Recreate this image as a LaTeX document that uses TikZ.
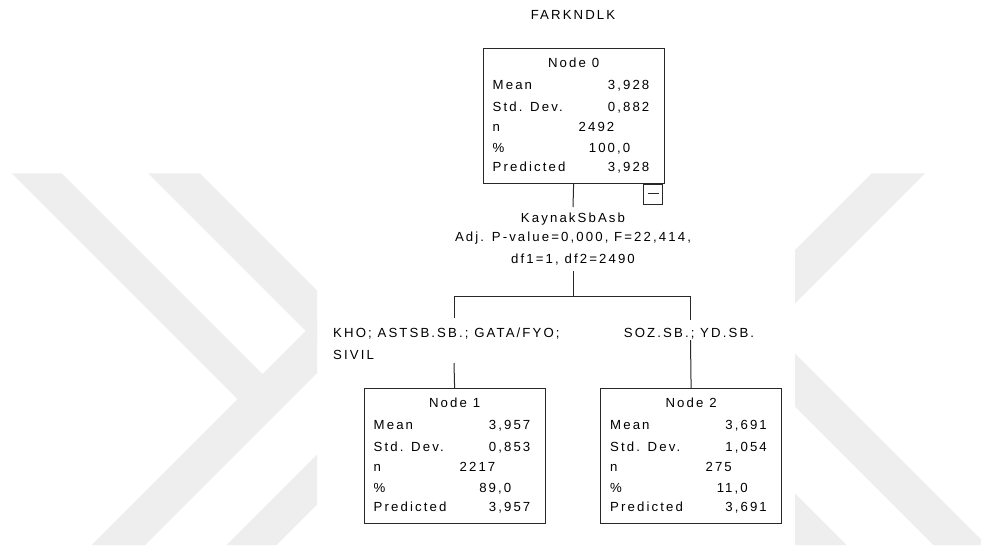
\documentclass[tikz,border=0pt]{standalone}
\usepackage{fontspec}
\setmainfont{Liberation Sans}[LetterSpace=16]
\usetikzlibrary{calc}
\definecolor{wmgray}{RGB}{238,238,238}
\definecolor{boxcol}{RGB}{40,40,40}
\newcommand\dgfont{\fontsize{13.2}{15}\selectfont}
\newcommand\statbox[9]{%
  \node[box, anchor=north west] (#1) at (#2,#3) {};
  \node[txt, anchor=base] (#1-title) at ($(#1.north)+(0,19)$) {#4};
  \node[txt, anchor=base west] (#1-l1) at ($(#1.north west)+(10,41.5)$) {Mean};
  \node[txt, anchor=base east] (#1-v1) at ($(#1.north west)+(167,41.5)$) {#5};
  \node[txt, anchor=base west] (#1-l2) at ($(#1.north west)+(10,63)$) {Std. Dev.};
  \node[txt, anchor=base east] (#1-v2) at ($(#1.north west)+(167,63)$) {#6};
  \node[txt, anchor=base west] (#1-l3) at ($(#1.north west)+(10,83.5)$) {n};
  \node[txt, anchor=base east] (#1-v3) at ($(#1.north west)+(132,83.5)$) {#7};
  \node[txt, anchor=base west] (#1-l4) at ($(#1.north west)+(10,104)$) {\%};
  \node[txt, anchor=base east] (#1-v4) at ($(#1.north west)+(148,104)$) {#8};
  \node[txt, anchor=base west] (#1-l5) at ($(#1.north west)+(10,123.5)$) {Predicted};
  \node[txt, anchor=base east] (#1-v5) at ($(#1.north west)+(167,123.5)$) {#9};
}
\begin{document}
\begin{tikzpicture}[x=1pt,y=-1pt,
  wm/.style={fill=wmgray, draw=none},
  box/.style={draw=boxcol, line width=1.2pt, minimum width=181pt, minimum height=135pt, inner sep=0pt},
  txt/.style={inner sep=0pt, font=\dgfont, text=black},
  conn/.style={draw=boxcol, line width=1pt}]
\useasboundingbox (0,0) rectangle (981,550);
\fill[white] (0,0) rectangle (981,550);
% watermark
\begin{scope}
\clip (0,0) rectangle (981,550);
\fill[wm] (11.6,173.3) -- (61.6,173.3) -- (262.5,374.2) -- (317,319.7) -- (317,373) -- (145,545) -- (91.7,545) -- (237.5,399.2) -- cycle;
\fill[wm] (148.3,173.3) -- (200,173.3) -- (317,290.3) -- (317,342) -- cycle;
\fill[wm] (226.7,545) -- (276.7,545) -- (317,504.7) -- (317,454.7) -- cycle;
\fill[wm] (871.7,173.3) -- (925,173.3) -- (795,303.3) -- (795,250) -- cycle;
\fill[wm] (795,353.3) -- (795,406.7) -- (933.3,545) -- (986.7,545) -- cycle;
\fill[wm] (795,493.3) -- (795,545) -- (846.7,545) -- cycle;
\end{scope}
% title
\node[txt, anchor=base] (title) at (573,19) {FARKNDLK};
% boxes
\statbox{n0}{482.5}{48}{Node 0}{3,928}{0,882}{2492}{100,0}{3,928}
\statbox{n1}{363.5}{388}{Node 1}{3,957}{0,853}{2217}{89,0}{3,957}
\statbox{n2}{600}{388}{Node 2}{3,691}{1,054}{275}{11,0}{3,691}
% toggle
\node[draw=boxcol, line width=1pt, minimum width=19pt, minimum height=20pt, inner sep=0pt, anchor=north east] (toggle) at ($(n0.south east)+(-1.5,0)$) {};
\draw[line width=1pt, boxcol] ($(toggle.center)+(-5.5,-1)$) -- ($(toggle.center)+(5.5,-1)$);
% split text
\node[txt, anchor=base] (sp1) at (573,222.5) {KaynakSbAsb};
\node[txt, anchor=base] (sp2) at (573,241.5) {Adj. P-value=0,000, F=22,414,};
\node[txt, anchor=base] (sp3) at (573,263.5) {df1=1, df2=2490};
% branch labels
\node[txt, anchor=base west] (lab1a) at (333,337) {KHO; ASTSB.SB.; GATA/FYO;};
\node[txt, anchor=base west] (lab1b) at (333,359) {SIVIL};
\node[txt, anchor=base] (lab2) at (689,337) {SOZ.SB.; YD.SB.};
% junctions
\coordinate (j0) at (573,207);
\coordinate (j1) at (573,271);
\coordinate (hb) at (573,296);
\coordinate (lb) at (454,296);
\coordinate (rb) at (690.5,296);
\coordinate (lt) at (454,318);
\coordinate (lbt) at (454,363);
\coordinate (rt) at (690.5,320);
\coordinate (rbt) at (690.5,340);
% connectors
\draw[conn] (n0.south) -- (j0);
\draw[conn] (j1) -- (hb);
\draw[conn] (lb) -- (rb);
\draw[conn] (lb) -- (lt);
\draw[conn] (lbt) -- (n1.north);
\draw[conn] (rb) -- (rt);
\draw[conn] (rbt) -- (n2.north);
\end{tikzpicture}
\end{document}
